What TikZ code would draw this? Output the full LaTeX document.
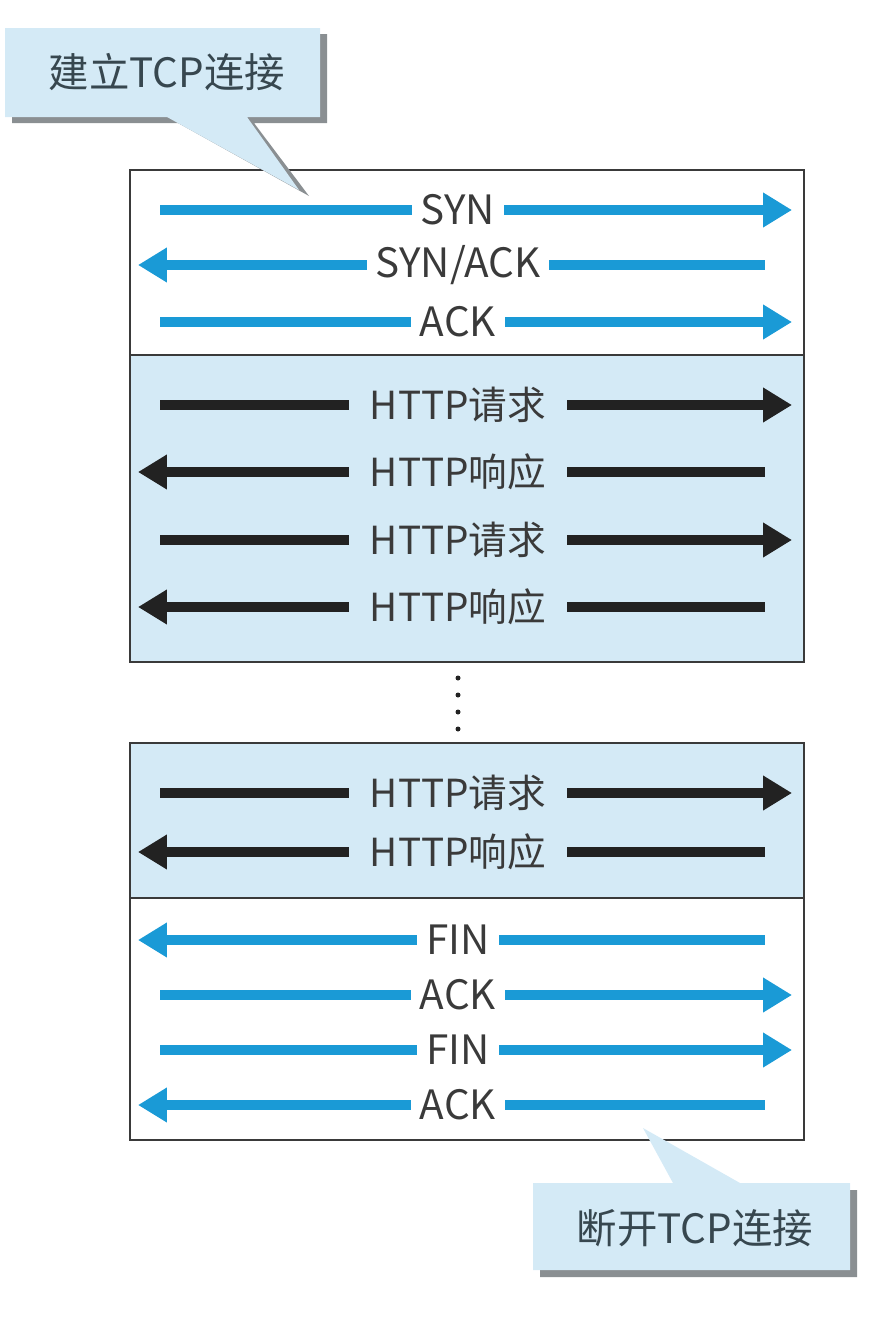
\documentclass[tikz,border=0pt]{standalone}
\usepackage{fontspec}
\usepackage{tikz}
\usetikzlibrary{arrows.meta}
\newfontfamily\cjk{Noto Sans CJK SC}
\definecolor{tcpblue}{HTML}{1A9AD6}
\definecolor{httpblack}{HTML}{222222}
\definecolor{paleblue}{HTML}{D4EAF6}
\definecolor{labelgray}{HTML}{3A3A3A}
\definecolor{callgray}{HTML}{37474F}
\definecolor{shadowgray}{HTML}{8A8F92}
\newcommand{\MidX}{458}

\tikzset{
  msglabel/.style={font=\cjk\fontsize{22}{24}\selectfont, text=labelgray, inner ysep=0pt},
  tcplabel/.style={msglabel, font=\cjk\fontsize{23}{24}\selectfont, inner xsep=0.18cm},
  httplabel/.style={msglabel, inner xsep=0.42cm},
  tcpline/.style={draw=tcpblue, line width=0.2cm},
  httpline/.style={draw=httpblack, line width=0.2cm},
  sendhead/.style={-{Triangle[length=0.58cm,width=0.66cm]}},
  boxline/.style={draw=labelgray, line width=0.04cm},
  callout/.style={fill=paleblue},
  calloutshadow/.style={fill=shadowgray},
  callouttext/.style={font=\cjk\fontsize{23}{24}\selectfont, text=callgray}
}

\begin{document}
\begin{tikzpicture}[x=0.02cm, y=-0.02cm]
\useasboundingbox (0,0) rectangle (872,1322);

% upper box
\fill[paleblue] (130,355) rectangle (804,662);
\draw[boxline] (130,170) rectangle (804,662);
\draw[boxline] (130,355) -- (804,355);

% lower box
\fill[paleblue] (130,743) rectangle (804,898);
\draw[boxline] (130,743) rectangle (804,1140);
\draw[boxline] (130,898) -- (804,898);

% handshake
\node[tcplabel] (syn) at (\MidX,210) {SYN};
\coordinate (synL) at (160,210);
\coordinate (synR) at (792,210);
\draw[tcpline] (synL) -- (syn.west);
\draw[tcpline, sendhead] (syn.east) -- (synR);

\node[tcplabel] (synack) at (\MidX,265) {SYN/ACK};
\coordinate (synackL) at (138,265);
\coordinate (synackR) at (765,265);
\draw[tcpline, sendhead] (synack.west) -- (synackL);
\draw[tcpline] (synack.east) -- (synackR);

\node[tcplabel] (ack) at (\MidX,322) {ACK};
\coordinate (ackL) at (160,322);
\coordinate (ackR) at (792,322);
\draw[tcpline] (ackL) -- (ack.west);
\draw[tcpline, sendhead] (ack.east) -- (ackR);

% http
\node[httplabel] (reqA) at (\MidX,405) {HTTP请求};
\coordinate (reqAL) at (160,405);
\coordinate (reqAR) at (792,405);
\draw[httpline] (reqAL) -- (reqA.west);
\draw[httpline, sendhead] (reqA.east) -- (reqAR);

\node[httplabel] (resA) at (\MidX,472) {HTTP响应};
\coordinate (resAL) at (138,472);
\coordinate (resAR) at (765,472);
\draw[httpline, sendhead] (resA.west) -- (resAL);
\draw[httpline] (resA.east) -- (resAR);

\node[httplabel] (reqB) at (\MidX,540) {HTTP请求};
\coordinate (reqBL) at (160,540);
\coordinate (reqBR) at (792,540);
\draw[httpline] (reqBL) -- (reqB.west);
\draw[httpline, sendhead] (reqB.east) -- (reqBR);

\node[httplabel] (resB) at (\MidX,607) {HTTP响应};
\coordinate (resBL) at (138,607);
\coordinate (resBR) at (765,607);
\draw[httpline, sendhead] (resB.west) -- (resBL);
\draw[httpline] (resB.east) -- (resBR);

% dots
\foreach \y in {678,695,712,729}
  \fill[httpblack] (\MidX,\y) circle [radius=0.05cm];

\node[httplabel] (reqC) at (\MidX,793) {HTTP请求};
\coordinate (reqCL) at (160,793);
\coordinate (reqCR) at (792,793);
\draw[httpline] (reqCL) -- (reqC.west);
\draw[httpline, sendhead] (reqC.east) -- (reqCR);

\node[httplabel] (resC) at (\MidX,852) {HTTP响应};
\coordinate (resCL) at (138,852);
\coordinate (resCR) at (765,852);
\draw[httpline, sendhead] (resC.west) -- (resCL);
\draw[httpline] (resC.east) -- (resCR);

% teardown
\node[tcplabel] (finA) at (\MidX,940) {FIN};
\coordinate (finAL) at (138,940);
\coordinate (finAR) at (765,940);
\draw[tcpline, sendhead] (finA.west) -- (finAL);
\draw[tcpline] (finA.east) -- (finAR);

\node[tcplabel] (ackA) at (\MidX,995) {ACK};
\coordinate (ackAL) at (160,995);
\coordinate (ackAR) at (792,995);
\draw[tcpline] (ackAL) -- (ackA.west);
\draw[tcpline, sendhead] (ackA.east) -- (ackAR);

\node[tcplabel] (finB) at (\MidX,1050) {FIN};
\coordinate (finBL) at (160,1050);
\coordinate (finBR) at (792,1050);
\draw[tcpline] (finBL) -- (finB.west);
\draw[tcpline, sendhead] (finB.east) -- (finBR);

\node[tcplabel] (ackB) at (\MidX,1105) {ACK};
\coordinate (ackBL) at (138,1105);
\coordinate (ackBR) at (765,1105);
\draw[tcpline, sendhead] (ackB.west) -- (ackBL);
\draw[tcpline] (ackB.east) -- (ackBR);

% callouts
\fill[calloutshadow] (12,34) -- (327,34) -- (327,123) -- (254,123) -- (309,196) -- (178,123) -- (12,123) -- cycle;
\fill[callout] (5,28) -- (320,28) -- (320,117) -- (247,117) -- (299,190) -- (167,117) -- (5,117) -- cycle;
\node[callouttext] (open) at (167,72) {建立TCP连接};

\fill[calloutshadow] (540,1190) -- (680,1190) -- (650,1135) -- (747,1190) -- (857,1190) -- (857,1277) -- (540,1277) -- cycle;
\fill[callout] (533,1183) -- (673,1183) -- (643,1128) -- (740,1183) -- (850,1183) -- (850,1270) -- (533,1270) -- cycle;
\node[callouttext] (close) at (695,1228) {断开TCP连接};

\end{tikzpicture}
\end{document}
